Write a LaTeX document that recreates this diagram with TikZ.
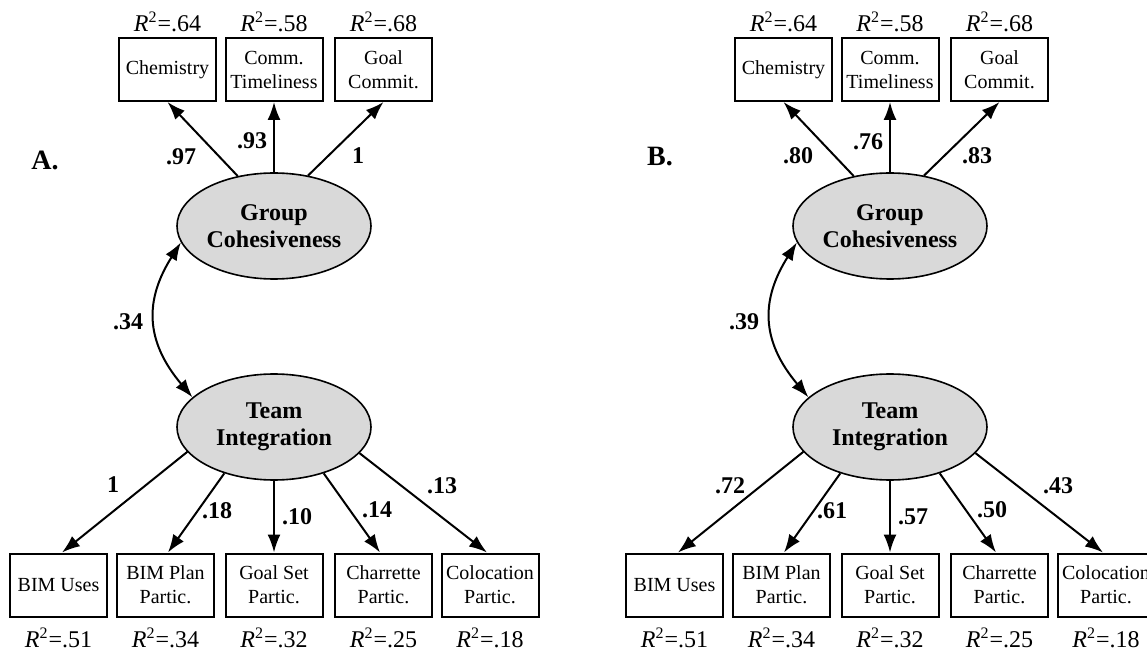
\documentclass[tikz,border=0pt]{standalone}
\usepackage{fontspec}
\setmainfont{Liberation Serif}
\usetikzlibrary{shapes.geometric,arrows.meta}
\definecolor{latfill}{HTML}{D9D9D9}
\tikzset{
  obs/.style={draw, line width=1pt, minimum width=48.5pt, minimum height=31.5pt, inner sep=0pt, align=center, font=\fontsize{10}{12}\selectfont},
  lat/.style={ellipse, draw, line width=0.8pt, fill=latfill, minimum width=97pt, minimum height=53pt, inner sep=0pt, align=center, font=\fontsize{12}{13.5}\selectfont\bfseries},
  coef/.style={inner sep=0pt, font=\fontsize{12}{14}\selectfont\bfseries},
  rsq/.style={inner sep=0pt, font=\fontsize{12}{14}\selectfont},
  panel/.style={inner sep=0pt, font=\fontsize{14}{16}\selectfont\bfseries},
  arr/.style={line width=1pt, -{Latex[length=9pt,width=6.5pt]}},
  dbl/.style={line width=1pt, {Latex[length=9pt,width=6.5pt]}-{Latex[length=9pt,width=6.5pt]}}
}
\newcommand{\rsqtxt}[1]{{\itshape R}\textsuperscript{2}=#1}
\begin{document}
\begin{tikzpicture}[x=0.5pt,y=-0.5pt]
\useasboundingbox (0,0) rectangle (1147,652);
% ---------------- Panel A ----------------
\node[panel] (aL) at (45,160) {A.};
\node[lat] (aG) at (274,226) {Group\\Cohesiveness};
\node[lat] (aT) at (274,427) {Team\\Integration};
\node[obs] (a1) at (167.5,69.5) {Chemistry};
\node[obs] (a2) at (274,69.5) {Comm.\\Timeliness};
\node[obs] (a3) at (383.5,69.5) {Goal\\Commit.};
\node[rsq] (ar1) at (167.5,22) {\rsqtxt{.64}};
\node[rsq] (ar2) at (274,22) {\rsqtxt{.58}};
\node[rsq] (ar3) at (383.5,22) {\rsqtxt{.68}};
\node[obs] (b1) at (58.5,585) {BIM Uses};
\node[obs] (b2) at (165.5,585) {BIM Plan\\Partic.};
\node[obs] (b3) at (274,585) {Goal Set\\Partic.};
\node[obs] (b4) at (383.5,585) {Charrette\\Partic.};
\node[obs] (b5) at (490,585) {Colocation\\Partic.};
\node[rsq] (br1) at (58.5,638) {\rsqtxt{.51}};
\node[rsq] (br2) at (165.5,638) {\rsqtxt{.34}};
\node[rsq] (br3) at (274,638) {\rsqtxt{.32}};
\node[rsq] (br4) at (383.5,638) {\rsqtxt{.25}};
\node[rsq] (br5) at (490,638) {\rsqtxt{.18}};
\draw[arr] (aG.126) -- (a1.south);
\draw[arr] (aG.90) -- (a2.south);
\draw[arr] (aG.56) -- (a3.south);
\draw[dbl] (aG.190) .. controls +(-36,57) and +(-48,-57) .. (aT.160);
\draw[arr] (aT.196) -- ([xshift=1.75pt]b1.north);
\draw[arr] (aT.223) -- ([xshift=1.25pt]b2.north);
\draw[arr] (aT.270) -- (b3.north);
\draw[arr] (aT.317) -- ([xshift=-1.75pt]b4.north);
\draw[arr] (aT.343) -- ([xshift=-1.5pt]b5.north);
\node[coef] (ac1) at (181,157) {.97};
\node[coef] (ac2) at (252,141) {.93};
\node[coef] (ac3) at (358,156) {1};
\node[coef] (acr) at (128,322) {.34};
\node[coef] (ad1) at (113,485) {1};
\node[coef] (ad2) at (217,511) {.18};
\node[coef] (ad3) at (297,517) {.10};
\node[coef] (ad4) at (377,510) {.14};
\node[coef] (ad5) at (442,486) {.13};
% ---------------- Panel B ----------------
\node[panel] (bL) at (660,157) {B.};
\node[lat] (bG) at (890,226) {Group\\Cohesiveness};
\node[lat] (bT) at (890,427) {Team\\Integration};
\node[obs] (c1) at (783.5,69.5) {Chemistry};
\node[obs] (c2) at (890,69.5) {Comm.\\Timeliness};
\node[obs] (c3) at (999.5,69.5) {Goal\\Commit.};
\node[rsq] (cr1) at (783.5,22) {\rsqtxt{.64}};
\node[rsq] (cr2) at (890,22) {\rsqtxt{.58}};
\node[rsq] (cr3) at (999.5,22) {\rsqtxt{.68}};
\node[obs] (d1) at (674.5,585) {BIM Uses};
\node[obs] (d2) at (781.5,585) {BIM Plan\\Partic.};
\node[obs] (d3) at (890,585) {Goal Set\\Partic.};
\node[obs] (d4) at (999.5,585) {Charrette\\Partic.};
\node[obs] (d5) at (1106,585) {Colocation\\Partic.};
\node[rsq] (dr1) at (674.5,638) {\rsqtxt{.51}};
\node[rsq] (dr2) at (781.5,638) {\rsqtxt{.34}};
\node[rsq] (dr3) at (890,638) {\rsqtxt{.32}};
\node[rsq] (dr4) at (999.5,638) {\rsqtxt{.25}};
\node[rsq] (dr5) at (1106,638) {\rsqtxt{.18}};
\draw[arr] (bG.126) -- (c1.south);
\draw[arr] (bG.90) -- (c2.south);
\draw[arr] (bG.56) -- (c3.south);
\draw[dbl] (bG.190) .. controls +(-36,57) and +(-48,-57) .. (bT.160);
\draw[arr] (bT.196) -- ([xshift=1.75pt]d1.north);
\draw[arr] (bT.223) -- ([xshift=1.25pt]d2.north);
\draw[arr] (bT.270) -- (d3.north);
\draw[arr] (bT.317) -- ([xshift=-1.75pt]d4.north);
\draw[arr] (bT.343) -- ([xshift=-1.5pt]d5.north);
\node[coef] (bc1) at (798,156) {.80};
\node[coef] (bc2) at (868,142) {.76};
\node[coef] (bc3) at (977,156) {.83};
\node[coef] (bcr) at (744,322) {.39};
\node[coef] (bd1) at (730,486) {.72};
\node[coef] (bd2) at (832,511) {.61};
\node[coef] (bd3) at (913,517) {.57};
\node[coef] (bd4) at (992,510) {.50};
\node[coef] (bd5) at (1058,486) {.43};
\end{tikzpicture}
\end{document}
